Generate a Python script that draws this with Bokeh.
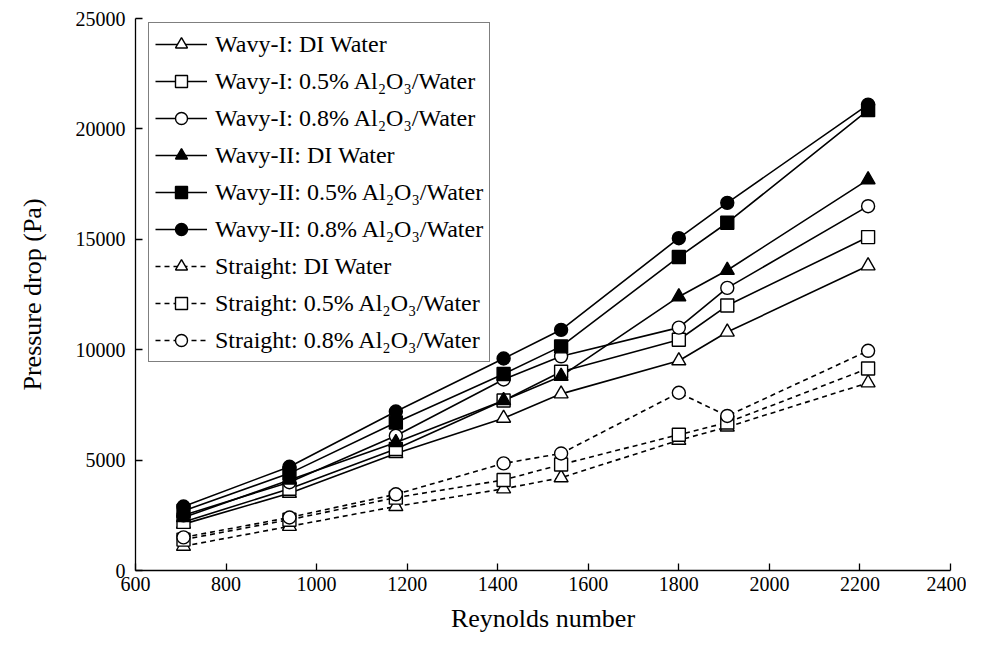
from bokeh.plotting import figure
from bokeh.models import Range1d, Legend, LegendItem, FixedTicker
from bokeh.embed import file_html
from bokeh.resources import INLINE

reynolds = [706, 940, 1175, 1413, 1540, 1800, 1907, 2218]

wavy1_di = [2100, 3500, 5300, 6900, 8000, 9500, 10800, 13800]
wavy1_05 = [2200, 3700, 5500, 7700, 9000, 10450, 12000, 15100]
wavy1_08 = [2500, 4000, 6100, 8650, 9700, 11000, 12800, 16500]
wavy2_di = [2400, 4100, 5800, 7700, 8800, 12400, 13600, 17700]
wavy2_05 = [2700, 4400, 6700, 8900, 10150, 14200, 15750, 20850]
wavy2_08 = [2900, 4700, 7200, 9600, 10900, 15050, 16650, 21100]
straight_di = [1100, 2000, 2900, 3700, 4200, 5900, 6500, 8500]
straight_05 = [1400, 2300, 3300, 4100, 4800, 6150, 6700, 9150]
straight_08 = [1500, 2400, 3450, 4850, 5300, 8050, 7000, 9950]

labels = [
    "Wavy-I: DI Water",
    "Wavy-I: 0.5% Al\u2082O\u2083/Water",
    "Wavy-I: 0.8% Al\u2082O\u2083/Water",
    "Wavy-II: DI Water",
    "Wavy-II: 0.5% Al\u2082O\u2083/Water",
    "Wavy-II: 0.8% Al\u2082O\u2083/Water",
    "Straight: DI Water",
    "Straight: 0.5% Al\u2082O\u2083/Water",
    "Straight: 0.8% Al\u2082O\u2083/Water",
]
series = [wavy1_di, wavy1_05, wavy1_08, wavy2_di, wavy2_05, wavy2_08,
          straight_di, straight_05, straight_08]
markers = ["triangle", "square", "circle"] * 3
fills = ["white"] * 3 + ["black"] * 3 + ["white"] * 3
dashes = ["solid"] * 6 + ["5 4"] * 3

x_ticks = [600, 800, 1000, 1200, 1400, 1600, 1800, 2000, 2200, 2400]
y_ticks = [0, 5000, 10000, 15000, 20000, 25000]

FONT = "Times New Roman"

p = figure(width=966, height=636, output_backend="svg", toolbar_location=None,
           x_range=Range1d(600, 2400), y_range=Range1d(0, 25000),
           min_border_left=135, min_border_right=16, min_border_top=18,
           min_border_bottom=66)
p.grid.visible = False
p.outline_line_color = None
p.background_fill_color = "white"

for ax in (p.xaxis[0], p.yaxis[0]):
    ax.axis_line_color = "black"
    ax.axis_line_width = 1.3
    ax.major_tick_in = 7
    ax.major_tick_out = 0
    ax.major_tick_line_color = "black"
    ax.major_tick_line_width = 1.3
    ax.minor_tick_line_color = None
    ax.major_label_text_font = FONT
    ax.major_label_text_font_size = "20px"
    ax.major_label_text_color = "black"
    ax.axis_label_text_font = FONT
    ax.axis_label_text_font_size = "26px"
    ax.axis_label_text_font_style = "normal"
    ax.axis_label_text_color = "black"

p.xaxis.ticker = FixedTicker(ticks=x_ticks)
p.yaxis.ticker = FixedTicker(ticks=y_ticks)
p.xaxis.axis_label = "Reynolds number"
p.yaxis.axis_label = "Pressure drop (Pa)"
p.xaxis.major_label_standoff = 6
p.yaxis.major_label_standoff = 10
p.xaxis.axis_label_standoff = 10
p.yaxis.axis_label_standoff = 26

lines = []
for ys, d in zip(series, dashes):
    lines.append(p.line(reynolds, ys, line_color="black", line_width=1.6, line_dash=d))

pts = []
for ys, m, f in zip(series, markers, fills):
    size = 14 if m == "triangle" else 13
    pts.append(p.scatter(reynolds, ys, marker=m, size=size, fill_color=f,
                         line_color="black", line_width=1.4))

items = [LegendItem(label=lab, renderers=[l, s]) for lab, l, s in zip(labels, lines, pts)]
legend = Legend(items=items, location=(13, 208))
legend.label_text_font = FONT
legend.label_text_font_size = "24px"
legend.label_text_color = "black"
legend.glyph_width = 52
legend.glyph_height = 30
legend.label_height = 30
legend.spacing = 7
legend.padding = 6
legend.margin = 0
legend.label_standoff = 8
legend.border_line_color = "black"
legend.border_line_width = 1.2
legend.background_fill_color = "white"
legend.background_fill_alpha = 1.0
p.add_layout(legend, "center")

open("out.html", "w").write(file_html(p, INLINE))
